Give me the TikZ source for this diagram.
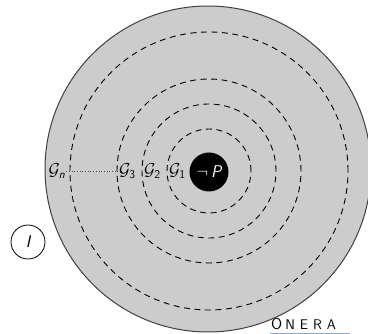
\documentclass[tikz,border=0pt]{standalone}
\usepackage{amsmath,amssymb}
\usepackage{tikz}
\usetikzlibrary{
  positioning
}
\definecolor{ringgray}{gray}{0.8}
\definecolor{footblue}{RGB}{140,170,215}

\begin{document}
\begin{tikzpicture}[x=1pt,y=-1pt,
  ring/.style={line width=0.9pt, dash pattern=on 6pt off 4.5pt},
  glabel/.style={inner sep=0.5pt, font=\fontsize{17}{19}\selectfont},
  world/.style={circle, draw, line width=0.8pt, minimum size=34pt, inner sep=0pt, font=\fontsize{17}{19}\selectfont\sffamily\itshape}]
\useasboundingbox (0,0) rectangle (368,334);
% footer
\node[anchor=base west, inner sep=0pt, font=\sffamily] (onera) at (271,329.5)
  {{\fontsize{16}{16}\selectfont O}\hspace{3pt}{\fontsize{14}{14}\selectfont N\hspace{5pt}E\hspace{5pt}R\hspace{5pt}A}};
\draw[footblue, line width=0.8pt] (270,333.5) -- (350,333.5);
% background disc
\begin{scope}
\clip (0,0) rectangle (368,334);
\fill[ringgray, draw=black!75, line width=1pt] (208,169) circle (163pt);
\end{scope}
% dashed rings round the goal
\foreach \r in {42,67,92,139}
  \draw[ring] (209,171) circle (\r pt);
\node[circle, fill=black, minimum size=39pt, inner sep=0pt, text=white, font=\fontsize{17}{19}\selectfont] (negP) at (209,172) {$\neg$\,{\sffamily\itshape P}};
\node[glabel, anchor=west] (g1) at (168.5,171) {$\mathcal{G}_{\textsf{1}}$};
\node[glabel, anchor=west] (g2) at (143.5,171) {$\mathcal{G}_{\textsf{2}}$};
\node[glabel, anchor=west] (g3) at (118.5,171) {$\mathcal{G}_{\textsf{3}}$};
\node[glabel, anchor=west] (gn) at (48,171) {$\mathcal{G}_{\textsf{\itshape n}}$};
\draw[dotted, line width=0.7pt, black!70] (gn) -- (g3);
\node[world] (init) at (28,242) {I};
\end{tikzpicture}
\end{document}
